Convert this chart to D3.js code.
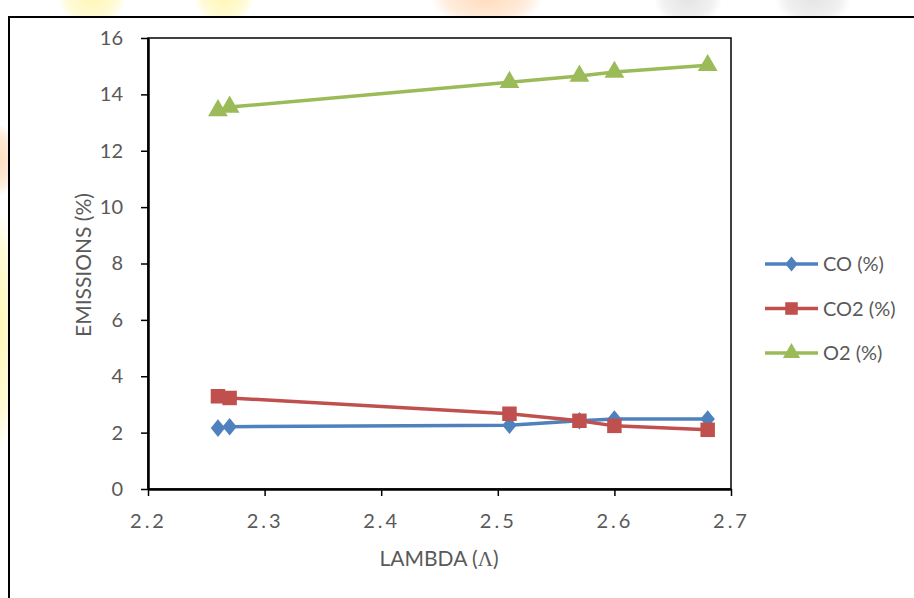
<!DOCTYPE html>
<html>
<head>
<meta charset="utf-8">
<script src="https://cdn.jsdelivr.net/npm/d3@7"></script>
<style>
  body { margin: 0; background: #fff; }
  text { font-family: Lato, "Open Sans", sans-serif; }
</style>
</head>
<body>
<div id="chart"></div>
<script>
// data
var lambda = [2.26, 2.27, 2.51, 2.57, 2.60, 2.68];
var coVals = [2.16, 2.21, 2.26, 2.42, 2.48, 2.48];
var co2Vals = [3.29, 3.23, 2.67, 2.42, 2.24, 2.10];
var o2Vals = [13.43, 13.55, 14.43, 14.65, 14.79, 15.03];
var seriesNames = ["CO (%)", "CO2 (%)", "O2 (%)"];
var xTicks = [2.2, 2.3, 2.4, 2.5, 2.6, 2.7];
var yTicks = [0, 2, 4, 6, 8, 10, 12, 14, 16];

var svgWidth = 914;
var svgHeight = 598;
var margin = { top: 38, left: 148, right: 183, bottom: 109 };
var width = svgWidth - margin.left - margin.right;
var height = svgHeight - margin.top - margin.bottom;

var svg = d3.select("#chart")
  .append("svg")
  .attr("width", svgWidth)
  .attr("height", svgHeight);

// faint watermark blobs around the chart box
var defs = svg.append("defs");
var blobColors = { y: "#fff6b0", o: "#ffd9b8", g: "#e2e2e2" };
Object.keys(blobColors).forEach(function(k) {
  var grad = defs.append("radialGradient").attr("id", "blob-" + k);
  grad.append("stop").attr("offset", "0%").attr("stop-color", blobColors[k]).attr("stop-opacity", 0.9);
  grad.append("stop").attr("offset", "70%").attr("stop-color", blobColors[k]).attr("stop-opacity", 0.5);
  grad.append("stop").attr("offset", "100%").attr("stop-color", blobColors[k]).attr("stop-opacity", 0);
});
var blobs = [
  { x: 92, y: 0, rx: 34, ry: 26, c: "y" },
  { x: 224, y: 0, rx: 30, ry: 24, c: "y" },
  { x: 487, y: 0, rx: 56, ry: 26, c: "o" },
  { x: 688, y: 0, rx: 34, ry: 26, c: "g" },
  { x: 813, y: 0, rx: 38, ry: 26, c: "g" },
  { x: 0, y: 160, rx: 16, ry: 36, c: "o" },
  { x: 0, y: 330, rx: 16, ry: 120, c: "y" }
];
svg.selectAll("ellipse.blob")
  .data(blobs)
  .enter()
  .append("ellipse")
  .attr("cx", d => d.x)
  .attr("cy", d => d.y)
  .attr("rx", d => d.rx)
  .attr("ry", d => d.ry)
  .attr("fill", d => "url(#blob-" + d.c + ")");

// chart box
svg.append("rect")
  .attr("x", 9)
  .attr("y", 17)
  .attr("width", 940)
  .attr("height", 620)
  .attr("fill", "#fff")
  .attr("stroke", "#000")
  .attr("stroke-width", 2);

var chartGroup = svg.append("g")
  .attr("transform", `translate(${margin.left}, ${margin.top})`);

var xScale = d3.scaleLinear().domain([2.2, 2.7]).range([0, width]);
var yScale = d3.scaleLinear().domain([0, 16]).range([height, 0]);

// plot frame (right + top)
chartGroup.append("rect")
  .attr("width", width)
  .attr("height", height)
  .attr("fill", "none")
  .attr("stroke", "#000")
  .attr("stroke-width", 1.5);

var xAxis = d3.axisBottom(xScale)
  .tickValues(xTicks)
  .tickSize(7)
  .tickSizeOuter(0)
  .tickFormat(d3.format(".1f"));
var yAxis = d3.axisLeft(yScale)
  .tickValues(yTicks)
  .tickSize(7)
  .tickSizeOuter(0);

var gx = chartGroup.append("g")
  .attr("transform", `translate(0, ${height})`)
  .call(xAxis);
var gy = chartGroup.append("g")
  .call(yAxis);

[gx, gy].forEach(function(g) {
  g.select(".domain").attr("stroke", "#000").attr("stroke-width", 2.5);
  g.selectAll(".tick line").attr("stroke", "#000").attr("stroke-width", 1.5);
  g.selectAll(".tick text")
    .attr("fill", "#595959")
    .style("font-size", "20px");
});
gx.selectAll(".tick text")
  .attr("y", 39)
  .attr("dy", 0)
  .style("letter-spacing", "3px");
gy.selectAll(".tick text").attr("x", -25);

// axis titles
chartGroup.append("text")
  .attr("transform", "rotate(-90)")
  .attr("x", -227)
  .attr("y", -57)
  .attr("text-anchor", "middle")
  .attr("fill", "#595959")
  .style("font-size", "21px")
  .text("EMISSIONS (%)");

var xTitle = chartGroup.append("text")
  .attr("x", 291)
  .attr("y", 528)
  .attr("text-anchor", "middle")
  .attr("fill", "#595959")
  .style("font-size", "21px");
xTitle.append("tspan").text("LAMBDA (");
xTitle.append("tspan").style("font-family", "'Liberation Serif', serif").text("\u039B");
xTitle.append("tspan").text(")");

// diamond a bit wider than d3's default one
var diamond = {
  draw: function(ctx, size) {
    var h = Math.sqrt(size) * 0.62, w = h * 0.82;
    ctx.moveTo(0, -h);
    ctx.lineTo(w, 0);
    ctx.lineTo(0, h);
    ctx.lineTo(-w, 0);
    ctx.closePath();
  }
};

var series = [
  { name: seriesNames[0], vals: coVals, color: "#4F81BD", shape: diamond, size: 200 },
  { name: seriesNames[1], vals: co2Vals, color: "#C0504D", shape: d3.symbolSquare, size: 210 },
  { name: seriesNames[2], vals: o2Vals, color: "#9BBB59", shape: d3.symbolTriangle, size: 170 }
];

var line = d3.line()
  .x((d, i) => xScale(lambda[i]))
  .y(d => yScale(d));

series.forEach(function(s) {
  chartGroup.append("path")
    .datum(s.vals)
    .attr("d", line)
    .attr("fill", "none")
    .attr("stroke", s.color)
    .attr("stroke-width", 3.5);
});

series.forEach(function(s) {
  chartGroup.selectAll(null)
    .data(s.vals)
    .enter()
    .append("path")
    .attr("d", d3.symbol().type(s.shape).size(s.size))
    .attr("transform", (d, i) => `translate(${xScale(lambda[i])}, ${yScale(d)})`)
    .attr("fill", s.color);
});

// legend
var legend = svg.append("g")
  .attr("transform", "translate(765, 264)");
series.forEach(function(s, i) {
  var g = legend.append("g").attr("transform", `translate(0, ${i * 44.5})`);
  g.append("line")
    .attr("x1", 0).attr("x2", 53)
    .attr("stroke", s.color)
    .attr("stroke-width", 3.5);
  g.append("path")
    .attr("d", d3.symbol().type(s.shape).size(s.size * 0.75))
    .attr("transform", "translate(26.5, 0)")
    .attr("fill", s.color);
  g.append("text")
    .attr("x", 58)
    .attr("dy", "0.35em")
    .attr("fill", "#595959")
    .style("font-size", "20px")
    .text(s.name);
});
</script>
</body>
</html>
